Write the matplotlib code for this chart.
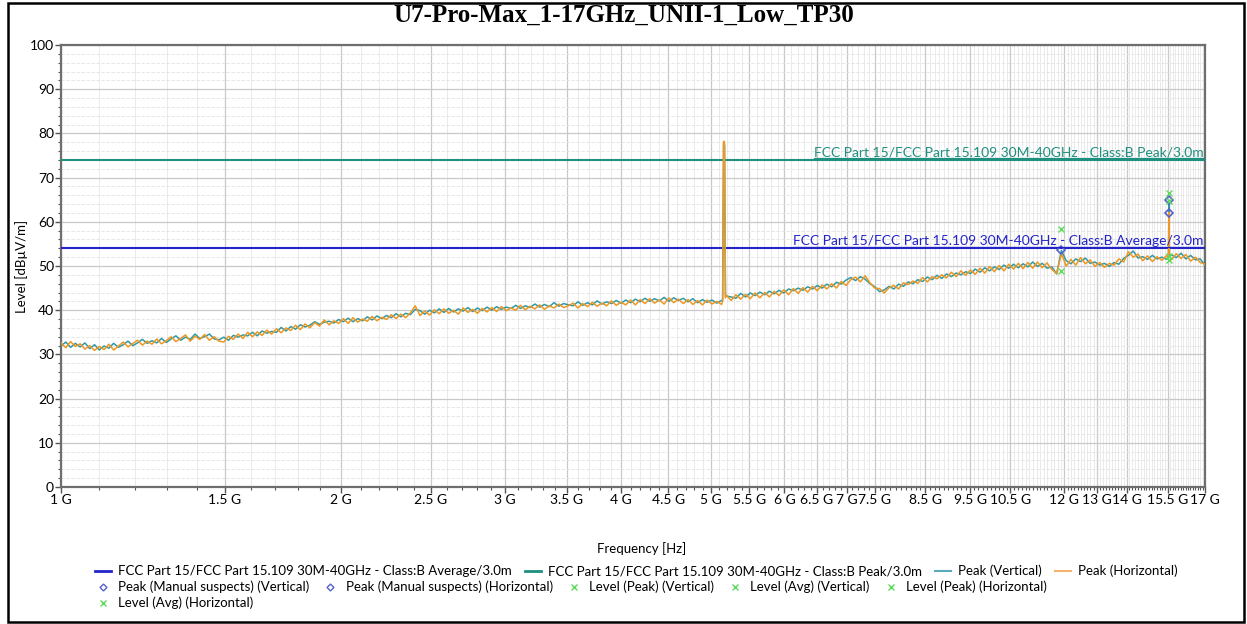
import numpy as np
import matplotlib.pyplot as plt
from matplotlib.lines import Line2D
from matplotlib.patches import Rectangle
from matplotlib.ticker import FixedLocator, NullFormatter

plt.rcParams['font.family'] = ['Lato', 'DejaVu Sans']

# chart data
title = 'U7-Pro-Max_1-17GHz_UNII-1_Low_TP30'
avg_limit = 54.0
peak_limit = 74.0
avg_label = 'FCC Part 15/FCC Part 15.109 30M-40GHz - Class:B Average/3.0m'
peak_label = 'FCC Part 15/FCC Part 15.109 30M-40GHz - Class:B Peak/3.0m'

tick_ghz = [1, 1.5, 2, 2.5, 3, 3.5, 4, 4.5, 5, 5.5, 6, 6.5, 7, 7.5,
            8.5, 9.5, 10.5, 12, 13, 14, 15.5, 17]

# sweep points, 1 - 17 GHz
sweep_ghz = np.geomspace(1, 17, 240)

peak_vert = [
    31.9, 32.8, 31.6, 32.5, 31.7, 32.6, 31.3, 32.2, 31.0, 31.9,
    31.4, 32.5, 31.6, 32.2, 33.0, 32.0, 32.6, 33.4, 32.5, 33.1,
    32.6, 33.6, 32.7, 33.5, 34.2, 33.2, 33.9, 33.4, 34.6, 33.6,
    34.0, 34.6, 33.5, 33.3, 33.9, 33.2, 34.3, 33.9, 34.4, 34.2,
    35.0, 34.2, 35.3, 34.8, 35.2, 35.0, 36.1, 35.3, 36.3, 35.7,
    36.7, 36.2, 36.6, 37.4, 36.8, 37.3, 37.5, 37.1, 37.9, 37.4,
    38.2, 37.4, 38.1, 37.6, 38.5, 37.8, 38.7, 38.1, 38.8, 38.3,
    39.2, 38.5, 39.3, 39.0, 40.2, 39.9, 39.1, 40.0, 39.4, 40.3,
    39.5, 40.4, 39.6, 40.3, 39.8, 40.6, 39.7, 40.5, 39.9, 40.7,
    40.0, 40.8, 40.2, 40.7, 40.4, 41.1, 40.4, 41.0, 40.6, 41.4,
    40.7, 41.3, 40.8, 41.7, 40.9, 41.5, 41.2, 41.0, 41.9, 41.1,
    41.7, 41.2, 42.1, 41.4, 41.9, 41.5, 42.2, 41.6, 42.3, 41.7,
    42.5, 41.9, 42.7, 42.0, 42.6, 42.1, 42.9, 42.0, 42.8, 42.2,
    42.7, 41.9, 42.6, 41.7, 42.4, 41.8, 42.3, 41.6, 42.2, 43.2,
    43.0, 42.7, 43.8, 43.0, 43.9, 43.3, 44.1, 43.5, 44.3, 43.7,
    44.5, 43.9, 44.8, 44.4, 45.0, 44.5, 45.3, 44.8, 45.6, 45.0,
    45.9, 45.3, 46.3, 45.9, 46.8, 47.4, 46.7, 47.6, 47.0, 46.0,
    45.3, 44.2, 44.6, 45.4, 44.8, 45.9, 45.4, 46.4, 46.0, 46.9,
    46.5, 47.5, 46.9, 47.9, 47.2, 48.2, 47.6, 48.4, 48.0, 48.7,
    48.3, 49.3, 48.6, 49.6, 48.9, 49.8, 49.2, 50.2, 49.5, 50.4,
    49.6, 50.5, 49.8, 50.9, 49.9, 50.6, 49.5, 49.8, 48.2, 53.5,
    51.2, 50.5, 51.6, 51.0, 51.8, 50.6, 50.9, 50.2, 50.6, 49.9,
    50.8, 50.4, 51.7, 52.4, 53.4, 51.8, 52.1, 51.5, 52.4, 51.6,
    52.0, 51.5, 52.5, 51.9, 52.9, 51.6, 52.4, 51.4, 51.6, 50.2,
]

peak_horz = [
    32.6, 31.5, 32.9, 31.8, 32.4, 31.2, 32.0, 30.9, 31.8, 31.1,
    32.3, 31.0, 31.9, 32.8, 31.7, 32.5, 33.2, 32.1, 33.0, 32.3,
    33.5, 32.4, 33.1, 34.0, 32.9, 33.6, 34.4, 33.0, 34.1, 33.4,
    34.5, 33.2, 34.0, 33.0, 32.8, 34.1, 33.4, 34.6, 33.6, 35.0,
    34.0, 35.1, 34.3, 35.5, 34.6, 35.8, 34.9, 36.0, 35.4, 36.6,
    35.6, 36.9, 36.0, 37.2, 36.4, 37.8, 36.7, 37.6, 37.0, 38.1,
    37.0, 38.3, 37.3, 38.0, 37.5, 38.6, 37.6, 38.4, 37.9, 39.0,
    38.1, 39.1, 38.3, 39.4, 41.0, 38.8, 39.8, 38.9, 40.1, 39.2,
    40.3, 39.3, 40.0, 39.1, 40.5, 39.5, 40.2, 39.3, 40.4, 39.6,
    40.6, 39.7, 40.8, 39.9, 40.5, 40.0, 41.1, 40.1, 40.9, 40.3,
    41.2, 40.2, 41.0, 40.5, 41.4, 40.6, 41.0, 41.6, 40.5, 41.5,
    40.8, 41.8, 40.9, 41.6, 41.0, 42.1, 41.1, 41.8, 41.2, 42.3,
    41.2, 42.4, 41.5, 42.6, 41.6, 42.3, 41.4, 42.8, 41.7, 42.5,
    41.5, 42.4, 41.3, 42.2, 41.2, 42.3, 41.4, 42.0, 41.3, 43.4,
    42.2, 43.5, 42.5, 43.6, 42.6, 43.9, 42.8, 44.0, 43.0, 44.3,
    43.3, 44.6, 43.5, 44.9, 43.8, 45.1, 44.1, 45.4, 44.4, 45.7,
    44.8, 46.0, 45.0, 46.5, 45.6, 46.9, 47.5, 46.4, 47.8, 46.2,
    45.0, 44.9, 43.9, 45.1, 45.6, 44.8, 46.2, 45.8, 46.6, 46.1,
    47.4, 46.4, 47.6, 47.1, 48.0, 47.3, 48.6, 47.6, 48.9, 47.9,
    49.1, 48.1, 49.5, 48.4, 49.9, 48.7, 50.1, 48.9, 50.4, 49.3,
    50.6, 49.4, 50.8, 49.5, 50.9, 49.6, 50.7, 49.2, 48.3, 52.8,
    50.0, 51.5, 50.2, 51.9, 50.5, 51.4, 49.9, 50.8, 49.7, 50.6,
    50.2, 51.6, 50.9, 53.2, 52.0, 52.7, 51.2, 52.3, 51.0, 52.1,
    51.3, 52.4, 51.4, 52.8, 51.7, 52.6, 51.1, 52.0, 50.8, 50.4,
]

# narrow carrier / spur spikes
spike_ghz = [5.148, 5.160, 5.172, 5.184, 15.530, 15.548, 15.565]
spike_vert = [42.3, 77.6, 77.4, 43.1, 52.0, 64.9, 52.6]
spike_horz = [42.0, 78.2, 78.0, 42.8, 51.8, 62.1, 52.2]

# markers
susp_vert_ghz = [11.89, 15.55]
susp_vert = [53.6, 64.9]
susp_horz_ghz = [15.55]
susp_horz = [62.1]
lvl_pk_vert_ghz = [11.89, 15.55]
lvl_pk_vert = [58.4, 66.6]
lvl_av_vert_ghz = [11.89, 15.55]
lvl_av_vert = [48.9, 51.4]
lvl_pk_horz_ghz = [15.55]
lvl_pk_horz = [64.8]
lvl_av_horz_ghz = [15.55]
lvl_av_horz = [52.3]

# merge spikes into the sweep
f_all = np.concatenate([sweep_ghz, spike_ghz])
order = np.argsort(f_all)
f_all = f_all[order]
vert_all = np.concatenate([peak_vert, spike_vert])[order]
horz_all = np.concatenate([peak_horz, spike_horz])[order]

c_avg = '#2323c8'
c_peak = '#1f8f7f'
c_vert = '#2e9aa6'
c_horz = '#ee9722'
c_susp = '#5561cc'
c_lvl = '#5cdc5c'

fig = plt.figure(figsize=(12.47, 6.24), dpi=100)
ax = fig.add_axes([61/1247, 1-487/624, (1205-61)/1247, (487-45)/624])

ax.axhline(avg_limit, color=c_avg, lw=1.5, zorder=3)
ax.axhline(peak_limit, color=c_peak, lw=1.5, zorder=3)
ax.plot(f_all, vert_all, color=c_vert, lw=1.1, zorder=4)
ax.plot(f_all, horz_all, color=c_horz, lw=1.1, zorder=5)

mk = dict(ls='none', zorder=6)
ax.plot(susp_vert_ghz, susp_vert, marker='D', ms=4, mfc='none', mec=c_susp, mew=1.2, **mk)
ax.plot(susp_horz_ghz, susp_horz, marker='D', ms=4, mfc='none', mec=c_susp, mew=1.2, **mk)
ax.plot(lvl_pk_vert_ghz, lvl_pk_vert, marker='x', ms=5, color=c_lvl, mew=1.0, **mk)
ax.plot(lvl_av_vert_ghz, lvl_av_vert, marker='x', ms=5, color=c_lvl, mew=1.0, **mk)
ax.plot(lvl_pk_horz_ghz, lvl_pk_horz, marker='x', ms=5, color=c_lvl, mew=1.0, **mk)
ax.plot(lvl_av_horz_ghz, lvl_av_horz, marker='x', ms=5, color=c_lvl, mew=1.0, **mk)

ax.set_xscale('log')
ax.set_xlim(1, 17)
ax.set_ylim(0, 100)
ax.xaxis.set_major_locator(FixedLocator(tick_ghz))
ax.set_xticklabels(['{:g} G'.format(t) for t in tick_ghz])
minor_x = [round(v, 1) for v in np.arange(1.1, 17.0, 0.1) if round(v, 1) not in tick_ghz]
ax.xaxis.set_minor_locator(FixedLocator(minor_x))
ax.xaxis.set_minor_formatter(NullFormatter())
ax.set_yticks(range(0, 101, 10))
ax.set_yticks(range(0, 101, 2), minor=True)

ax.grid(which='major', axis='both', color='#c9c9c9', lw=0.9)
ax.grid(which='minor', axis='x', color='#e6e6e6', lw=0.6)
ax.grid(which='minor', axis='y', color='#e2e2e2', lw=0.6, ls=(0, (4, 2)))
ax.set_axisbelow(True)

for s in ax.spines.values():
    s.set_color('#6e6e6e')
    s.set_linewidth(1.6)
ax.tick_params(which='major', length=4, width=1, color='#555555', labelsize=10, pad=1)
ax.tick_params(which='minor', length=2.5, width=0.8, color='#555555')

# limit labels, underlined
labels = []
for txt, lvl, col in [(peak_label, peak_limit, c_peak), (avg_label, avg_limit, c_avg)]:
    t = ax.text(0.999, lvl + 0.8, txt, color=col, fontsize=10, ha='right', va='baseline',
                transform=ax.get_yaxis_transform(), zorder=6)
    labels.append((t, lvl, col))
fig.canvas.draw()
inv = ax.transAxes.inverted()
for t, lvl, col in labels:
    bb = t.get_window_extent()
    x0 = inv.transform((bb.x0, bb.y0))[0]
    x1 = inv.transform((bb.x1, bb.y0))[0]
    ax.plot([x0, x1], [lvl + 0.35, lvl + 0.35], color=col, lw=0.9,
            transform=ax.get_yaxis_transform(), zorder=6)

fig.text(0.5, 1-15/624, title, family='Liberation Serif', fontsize=18, fontweight='bold',
         ha='center', va='center')
fig.text(22/1247, 1-266/624, 'Level [dBµV/m]', rotation=90, fontsize=9.5, ha='center', va='center')
fig.text(642/1247, 1-549/624, 'Frequency [Hz]', fontsize=9.5, ha='center', va='center')

# legend rows (flow layout)
row1 = [Line2D([], [], color=c_avg, lw=2), Line2D([], [], color=c_peak, lw=2),
        Line2D([], [], color='#5aaabb', lw=1.5), Line2D([], [], color='#f2b56e', lw=1.5)]
row1_lbl = [avg_label, peak_label, 'Peak (Vertical)', 'Peak (Horizontal)']
row2 = [Line2D([], [], ls='none', marker='D', ms=3.5, mfc='none', mec=c_susp),
        Line2D([], [], ls='none', marker='D', ms=3.5, mfc='none', mec=c_susp),
        Line2D([], [], ls='none', marker='x', ms=4, color=c_lvl),
        Line2D([], [], ls='none', marker='x', ms=4, color=c_lvl),
        Line2D([], [], ls='none', marker='x', ms=4, color=c_lvl)]
row2_lbl = ['Peak (Manual suspects) (Vertical)', 'Peak (Manual suspects) (Horizontal)',
            'Level (Peak) (Vertical)', 'Level (Avg) (Vertical)', 'Level (Peak) (Horizontal)']
row3 = [Line2D([], [], ls='none', marker='x', ms=4, color=c_lvl)]
row3_lbl = ['Level (Avg) (Horizontal)']

for hs, ls, y in [(row1, row1_lbl, 571), (row2, row2_lbl, 587), (row3, row3_lbl, 603)]:
    fig.legend(hs, ls, loc='center left', bbox_to_anchor=(95/1247, 1-y/624), ncol=len(hs),
               frameon=False, fontsize=9.5, handlelength=1.2, handletextpad=0.55,
               columnspacing=1.0, borderpad=0, borderaxespad=0)

fig.add_artist(Rectangle((8/1247, 2/624), 1236/1247, 619/624, transform=fig.transFigure,
                         fill=False, ec='black', lw=1.8))

fig.savefig('out.png', dpi=100)
